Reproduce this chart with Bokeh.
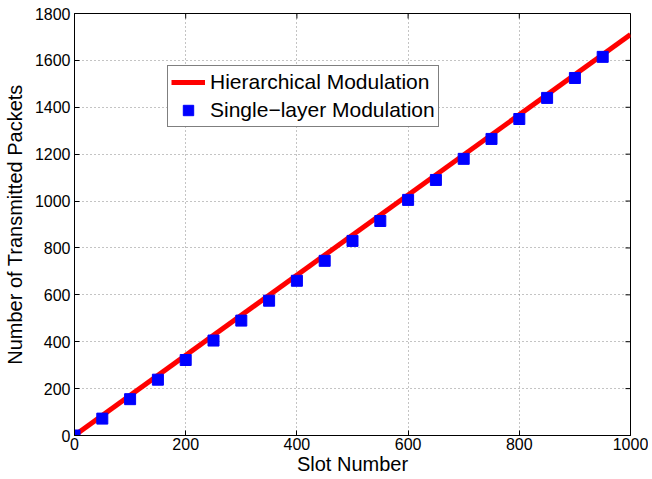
from bokeh.plotting import figure
from bokeh.models import Range1d, FixedTicker, Legend, LegendItem
from bokeh.embed import file_html
from bokeh.resources import INLINE
import math

# Data
slots = [0, 50, 100, 150, 200, 250, 300, 350, 400, 450, 500, 550, 600, 650, 700, 750, 800, 850, 900, 950]
single_layer = [0, 72, 155, 238, 322, 405, 490, 575, 660, 745, 830, 915, 1005, 1090, 1180, 1265, 1350, 1440, 1525, 1615]
hier_slots = [0, 1000]
hierarchical = [0, 1710]
x_ticks = [0, 200, 400, 600, 800, 1000]
y_ticks = [0, 200, 400, 600, 800, 1000, 1200, 1400, 1600, 1800]
x_max = 1000
y_max = 1800

FONT = "Liberation Sans"

p = figure(frame_width=556, frame_height=422, output_backend="svg", toolbar_location=None,
           x_range=Range1d(0, x_max), y_range=Range1d(0, y_max),
           min_border_left=72, min_border_right=18, min_border_top=13, min_border_bottom=36)
p.background_fill_color = "white"
p.border_fill_color = "white"
p.outline_line_color = "black"
p.outline_line_width = 1

p.xgrid.ticker = FixedTicker(ticks=x_ticks)
p.ygrid.ticker = FixedTicker(ticks=y_ticks)
p.grid.grid_line_color = "#888888"
p.grid.grid_line_dash = "1 3"
p.grid.grid_line_width = 1

# box ticks on top and right (clipped to frame -> only inner half shows)
p.scatter(x_ticks, [y_max] * len(x_ticks), marker="dash", size=10, angle=math.pi / 2,
          line_color="black", line_width=1)
p.scatter([x_max] * len(y_ticks), y_ticks, marker="dash", size=10,
          line_color="black", line_width=1)

hl = p.line(hier_slots, hierarchical, line_color="red", line_width=5)
sq = p.scatter(slots, single_layer, marker="square", size=11, fill_color="blue", line_color="blue")

for ax in p.xaxis + p.yaxis:
    ax.major_tick_in = 5
    ax.major_tick_out = 0
    ax.minor_tick_line_color = None
    ax.axis_line_color = "black"
    ax.major_tick_line_color = "black"
    ax.major_label_text_font = FONT
    ax.major_label_text_font_size = "16px"
    ax.major_label_text_color = "black"
    ax.axis_label_text_font = FONT
    ax.axis_label_text_font_size = "20px"
    ax.axis_label_text_font_style = "normal"
    ax.axis_label_text_color = "black"

p.xaxis.ticker = FixedTicker(ticks=x_ticks)
p.yaxis.ticker = FixedTicker(ticks=y_ticks)
p.xaxis.axis_label = "Slot Number"
p.yaxis.axis_label = "Number of Transmitted Packets"
p.xaxis.major_label_standoff = 2
p.xaxis.axis_label_standoff = 0
p.yaxis.major_label_standoff = 4
p.yaxis.axis_label_standoff = 6

legend = Legend(items=[LegendItem(label="Hierarchical Modulation", renderers=[hl]),
                       LegendItem(label="Single\u2212layer Modulation", renderers=[sq])],
                location=(93, 308))
legend.border_line_color = "black"
legend.border_line_width = 1
legend.label_text_font = FONT
legend.label_text_font_size = "21px"
legend.label_text_color = "black"
legend.padding = 3
legend.spacing = 2
legend.margin = 0
legend.glyph_width = 34
legend.glyph_height = 26
legend.label_height = 26
legend.label_standoff = 5
legend.background_fill_alpha = 1
p.add_layout(legend, "center")

open("out.html", "w").write(file_html(p, INLINE))
